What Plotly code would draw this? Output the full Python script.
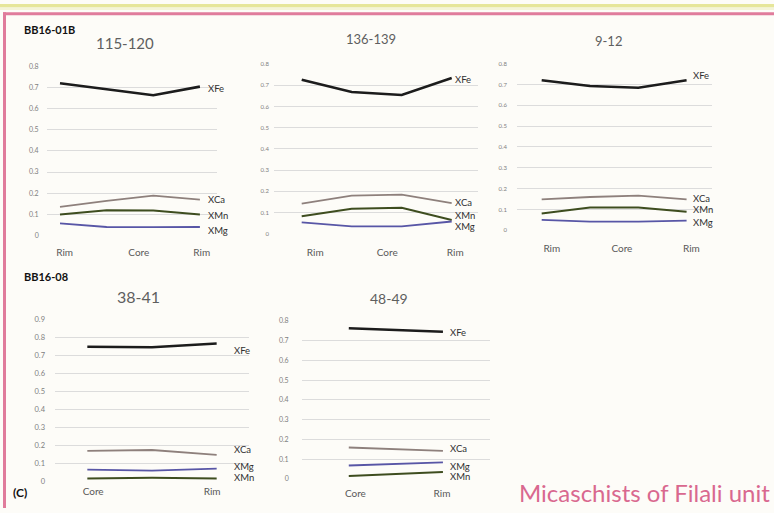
import plotly.graph_objects as go

W, H = 774, 513

# ---------------- data ----------------
series = ["XFe", "XCa", "XMn", "XMg"]

p1_title = "115-120"
p1_x = [0, 1, 2, 3]
p1_XFe = [0.720, 0.690, 0.663, 0.704]
p1_XCa = [0.135, 0.164, 0.188, 0.169]
p1_XMn = [0.099, 0.119, 0.118, 0.099]
p1_XMg = [0.057, 0.040, 0.039, 0.040]
p1_ticktext = ["Rim", "Core", "Rim"]

p2_title = "136-139"
p2_x = [0, 1, 2, 3]
p2_XFe = [0.726, 0.668, 0.654, 0.734]
p2_XCa = [0.142, 0.180, 0.185, 0.145]
p2_XMn = [0.083, 0.118, 0.123, 0.065]
p2_XMg = [0.054, 0.035, 0.035, 0.058]
p2_ticktext = ["Rim", "Core", "Rim"]

p3_title = "9-12"
p3_x = [0, 1, 2, 3]
p3_XFe = [0.720, 0.692, 0.684, 0.720]
p3_XCa = [0.149, 0.160, 0.167, 0.149]
p3_XMn = [0.081, 0.110, 0.110, 0.089]
p3_XMg = [0.050, 0.042, 0.042, 0.047]
p3_ticktext = ["Rim", "Core", "Rim"]

p4_title = "38-41"
p4_x = [0, 1, 2]
p4_XFe = [0.748, 0.745, 0.766]
p4_XCa = [0.168, 0.173, 0.146]
p4_XMn = [0.015, 0.018, 0.015]
p4_XMg = [0.064, 0.058, 0.069]
p4_ticktext = ["Core", "Rim"]

p5_title = "48-49"
p5_x = [0, 1]
p5_XFe = [0.763, 0.745]
p5_XCa = [0.159, 0.142]
p5_XMn = [0.015, 0.035]
p5_XMg = [0.068, 0.084]
p5_ticktext = ["Core", "Rim"]

# ---------------- layout / style ----------------
panels = [
    dict(title=p1_title, x=p1_x, ys=[p1_XFe, p1_XCa, p1_XMn, p1_XMg], ticktext=p1_ticktext,
         tickvals=[0.1, 1.69, 3.04], xr=[-0.285, 3.36], ymax=0.8,
         px=(46.7, 216.7), py=(63.3, 235.7), title_pos=(125, 40), title_size=15,
         lab_x=3.14, lab_y=[0.695, 0.168, 0.096, 0.024], ytick_size=7, stand_y=7, stand_x=9),
    dict(title=p2_title, x=p2_x, ys=[p2_XFe, p2_XCa, p2_XMn, p2_XMg], ticktext=p2_ticktext,
         tickvals=[0.27, 1.71, 3.07], xr=[-0.554, 3.526], ymax=0.8,
         px=(274, 478), py=(61, 234), title_pos=(371, 36), title_size=13,
         lab_x=3.03, lab_y=[0.729, 0.146, 0.088, 0.036], ytick_size=6, stand_y=4, stand_x=11),
    dict(title=p3_title, x=p3_x, ys=[p3_XFe, p3_XCa, p3_XMn, p3_XMg], ticktext=p3_ticktext,
         tickvals=[0.21, 1.66, 3.1], xr=[-0.511, 3.526], ymax=0.8,
         px=(517, 712), py=(60.5, 230.5), title_pos=(608, 38), title_size=13,
         lab_x=3.1, lab_y=[0.744, 0.151, 0.099, 0.040], ytick_size=6, stand_y=9, stand_x=11),
    dict(title=p4_title, x=p4_x, ys=[p4_XFe, p4_XCa, p4_XMn, p4_XMg], ticktext=p4_ticktext,
         tickvals=[0.09, 1.93], xr=[-0.5, 2.5], ymax=0.9,
         px=(55, 249), py=(321, 485.7), title_pos=(138, 298), title_size=16,
         lab_x=2.24, lab_y=[0.727, 0.176, 0.018, 0.082], ytick_size=7.5, stand_y=9, stand_x=3),
    dict(title=p5_title, x=p5_x, ys=[p5_XFe, p5_XCa, p5_XMn, p5_XMg], ticktext=p5_ticktext,
         tickvals=[0.07, 0.99], xr=[-0.5, 1.5], ymax=0.8,
         px=(301.7, 490), py=(322.5, 483.5), title_pos=(389, 300), title_size=14,
         lab_x=1.05, lab_y=[0.743, 0.153, 0.011, 0.063], ytick_size=7, stand_y=12, stand_x=7),
]

colors = {"XFe": "#1c1c1c", "XCa": "#8e807c", "XMn": "#3e4d1f", "XMg": "#5856a6"}
widths = {"XFe": 2.6, "XCa": 1.8, "XMn": 2.0, "XMg": 1.8}
bg = "#fdfcf8"
grid = "#dcdcdc"
font = "Lato"

fig = go.Figure()
annotations = []
layout = {}

for i, p in enumerate(panels, start=1):
    xa = "x" if i == 1 else f"x{i}"
    ya = "y" if i == 1 else f"y{i}"
    for name, yv in zip(series, p["ys"]):
        fig.add_trace(go.Scatter(x=p["x"], y=yv, mode="lines", name=name,
                                 line=dict(color=colors[name], width=widths[name]),
                                 xaxis=xa, yaxis=ya, showlegend=False, hoverinfo="skip"))
    x0, x1 = p["px"]
    ytop, ybot = p["py"]
    layout[f"xaxis{i if i > 1 else ''}"] = dict(
        domain=[x0 / W, x1 / W], anchor=ya, range=p["xr"], showgrid=False,
        zeroline=False, showline=False, tickmode="array", tickvals=p["tickvals"],
        ticktext=p["ticktext"], ticks="", ticklabelstandoff=p["stand_x"],
        tickfont=dict(family=font, size=10, color="#595959"), fixedrange=True)
    layout[f"yaxis{i if i > 1 else ''}"] = dict(
        domain=[1 - ybot / H, 1 - ytop / H], anchor=xa, range=[-0.0005, p["ymax"] + 0.0005],
        dtick=0.1, tick0=0, showgrid=True, gridcolor=grid, gridwidth=1, zeroline=False,
        showline=False, ticks="", ticklabelstandoff=p["stand_y"],
        tickfont=dict(family=font, size=p["ytick_size"], color="#808080"), fixedrange=True)
    annotations.append(dict(text=p["title"], xref="paper", yref="paper",
                            x=p["title_pos"][0] / W, y=1 - p["title_pos"][1] / H,
                            xanchor="center", yanchor="middle", showarrow=False,
                            font=dict(family=font, size=p["title_size"], color="#5f5f5f")))
    for name, ly in zip(series, p["lab_y"]):
        annotations.append(dict(text=name, xref=xa, yref=ya, x=p["lab_x"], y=ly,
                                xanchor="left", yanchor="middle", showarrow=False,
                                font=dict(family=font, size=9.5, color="#303030")))

annotations += [
    dict(text="<b>BB16-01B</b>", xref="paper", yref="paper", x=22 / W, y=1 - 26 / H,
         xanchor="left", yanchor="middle", showarrow=False,
         font=dict(family=font, size=11, color="#111111")),
    dict(text="<b>BB16-08</b>", xref="paper", yref="paper", x=22 / W, y=1 - 277 / H,
         xanchor="left", yanchor="middle", showarrow=False,
         font=dict(family=font, size=11, color="#111111")),
    dict(text="<b>(C)</b>", xref="paper", yref="paper", x=11 / W, y=1 - 497 / H,
         xanchor="left", yanchor="middle", showarrow=False,
         font=dict(family=font, size=12, color="#111111")),
    dict(text="Micaschists of Filali unit", xref="paper", yref="paper", x=772 / W, y=1 - 497 / H,
         xanchor="right", yanchor="middle", showarrow=False,
         font=dict(family=font, size=24, color="#d9688f")),
]

shapes = [
    dict(type="rect", xref="paper", yref="paper", x0=0, x1=1, y0=1 - 3.5 / H, y1=1,
         fillcolor="#e6e69a", line=dict(width=0), layer="below"),
    dict(type="rect", xref="paper", yref="paper", x0=0, x1=1, y0=1 - 6 / H, y1=1 - 3.5 / H,
         fillcolor="#f4f4d8", line=dict(width=0), layer="below"),
    dict(type="rect", xref="paper", yref="paper", x0=3 / W, x1=1, y0=1 - 11.5 / H, y1=1 - 8.5 / H,
         fillcolor="#e07c9c", line=dict(width=0), layer="below"),
    dict(type="rect", xref="paper", yref="paper", x0=3 / W, x1=6 / W, y0=0, y1=1 - 8.5 / H,
         fillcolor="#e07c9c", line=dict(width=0), layer="below"),
]

fig.update_layout(width=W, height=H, margin=dict(l=0, r=0, t=0, b=0),
                  paper_bgcolor=bg, plot_bgcolor=bg, annotations=annotations,
                  shapes=shapes, showlegend=False, **layout)

fig.write_html("out.html", config={"displayModeBar": False},
               post_script="document.body.style.margin='0px';document.body.style.overflow='hidden';")
